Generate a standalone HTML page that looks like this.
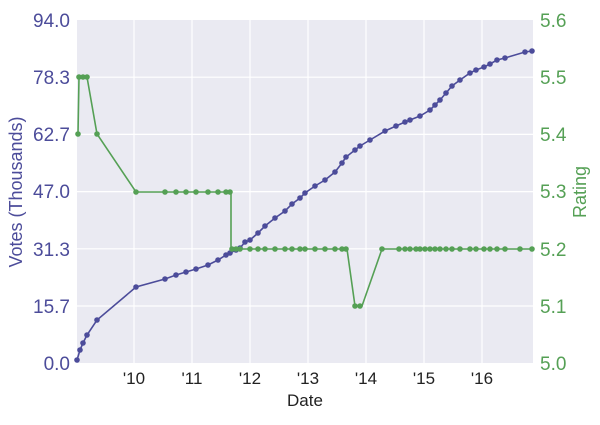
<!DOCTYPE html><html><head><style>body{margin:0;background:#fff}svg text{font-family:"Liberation Sans",sans-serif}</style></head><body>
<svg width="600" height="420" viewBox="0 0 600 420">
<rect x="77" y="20" width="456" height="343" fill="#eaeaf2"/>
<g stroke="#fff" stroke-width="1.2">
<line x1="77" x2="533" y1="77.2" y2="77.2"/><line x1="77" x2="533" y1="134.4" y2="134.4"/><line x1="77" x2="533" y1="191.6" y2="191.6"/><line x1="77" x2="533" y1="248.8" y2="248.8"/><line x1="77" x2="533" y1="306" y2="306"/>
<line y1="20" y2="363" x1="134" x2="134"/><line y1="20" y2="363" x1="192" x2="192"/><line y1="20" y2="363" x1="250" x2="250"/><line y1="20" y2="363" x1="308" x2="308"/><line y1="20" y2="363" x1="366" x2="366"/><line y1="20" y2="363" x1="424" x2="424"/><line y1="20" y2="363" x1="482" x2="482"/>
</g>
<g font-size="19" fill="#4c4c9a" text-anchor="end">
<text x="70" y="27">94.0</text><text x="70" y="84">78.3</text><text x="70" y="141">62.7</text><text x="70" y="198">47.0</text><text x="70" y="256">31.3</text><text x="70" y="313">15.7</text><text x="70" y="370">0.0</text>
</g>
<g font-size="19" fill="#55a055">
<text x="540" y="27">5.6</text><text x="540" y="84">5.5</text><text x="540" y="141">5.4</text><text x="540" y="198">5.3</text><text x="540" y="256">5.2</text><text x="540" y="313">5.1</text><text x="540" y="370">5.0</text>
</g>
<g font-size="17" fill="#222" text-anchor="middle">
<text x="134" y="384">'10</text><text x="192" y="384">'11</text><text x="250" y="384">'12</text><text x="308" y="384">'13</text><text x="366" y="384">'14</text><text x="424" y="384">'15</text><text x="482" y="384">'16</text>
<text x="305" y="406">Date</text>
</g>
<text transform="translate(22,192) rotate(-90)" font-size="18" fill="#4c4c9a" text-anchor="middle">Votes (Thousands)</text>
<text transform="translate(586,192) rotate(-90)" font-size="18" fill="#55a055" text-anchor="middle">Rating</text>
<g id="v"><polyline fill="none" stroke="#4c4c9a" stroke-width="1.6" points="77,360 80,350 83,343 87,335 97,320 136,287 165,279 176,275 186,272 196,269 208,265 218,260 226,255 230,253 236,250 240,248 245,242 250,240 258,233 265,226 275,218 285,211 292,204 300,198 305,193 315,186 325,180 335,172 342,163 346,157 355,150 360,146 370,140 385,131 396,126 405,122 410,120 420,116 430,110 435,105 440,100 446,93 452,86 460,80 470,73 476,70 484,67 490,64 497,60 505,58 525,52 532,51"/>
<g fill="#4c4c9a">
<circle cx="77" cy="360" r="2.8"/><circle cx="80" cy="350" r="2.8"/><circle cx="83" cy="343" r="2.8"/><circle cx="87" cy="335" r="2.8"/><circle cx="97" cy="320" r="2.8"/><circle cx="136" cy="287" r="2.8"/><circle cx="165" cy="279" r="2.8"/><circle cx="176" cy="275" r="2.8"/><circle cx="186" cy="272" r="2.8"/><circle cx="196" cy="269" r="2.8"/><circle cx="208" cy="265" r="2.8"/><circle cx="218" cy="260" r="2.8"/><circle cx="226" cy="255" r="2.8"/><circle cx="230" cy="253" r="2.8"/><circle cx="236" cy="250" r="2.8"/><circle cx="240" cy="248" r="2.8"/><circle cx="245" cy="242" r="2.8"/><circle cx="250" cy="240" r="2.8"/><circle cx="258" cy="233" r="2.8"/><circle cx="265" cy="226" r="2.8"/><circle cx="275" cy="218" r="2.8"/><circle cx="285" cy="211" r="2.8"/><circle cx="292" cy="204" r="2.8"/><circle cx="300" cy="198" r="2.8"/><circle cx="305" cy="193" r="2.8"/><circle cx="315" cy="186" r="2.8"/><circle cx="325" cy="180" r="2.8"/><circle cx="335" cy="172" r="2.8"/><circle cx="342" cy="163" r="2.8"/><circle cx="346" cy="157" r="2.8"/><circle cx="355" cy="150" r="2.8"/><circle cx="360" cy="146" r="2.8"/><circle cx="370" cy="140" r="2.8"/><circle cx="385" cy="131" r="2.8"/><circle cx="396" cy="126" r="2.8"/><circle cx="405" cy="122" r="2.8"/><circle cx="410" cy="120" r="2.8"/><circle cx="420" cy="116" r="2.8"/><circle cx="430" cy="110" r="2.8"/><circle cx="435" cy="105" r="2.8"/><circle cx="440" cy="100" r="2.8"/><circle cx="446" cy="93" r="2.8"/><circle cx="452" cy="86" r="2.8"/><circle cx="460" cy="80" r="2.8"/><circle cx="470" cy="73" r="2.8"/><circle cx="476" cy="70" r="2.8"/><circle cx="484" cy="67" r="2.8"/><circle cx="490" cy="64" r="2.8"/><circle cx="497" cy="60" r="2.8"/><circle cx="505" cy="58" r="2.8"/><circle cx="525" cy="52" r="2.8"/><circle cx="532" cy="51" r="2.8"/>
</g></g>
<polyline fill="none" stroke="#55a055" stroke-width="1.6" points="78,134 79,77 87,77 97,134 136,192 231,192 231,249 347,249 355,306 362,306 382,249 532,249"/>
<g fill="#55a055">
<circle cx="78" cy="134" r="2.8"/><circle cx="79" cy="77" r="2.8"/><circle cx="83" cy="77" r="2.8"/><circle cx="87" cy="77" r="2.8"/><circle cx="97" cy="134" r="2.8"/><circle cx="136" cy="192" r="2.8"/><circle cx="165" cy="192" r="2.8"/><circle cx="176" cy="192" r="2.8"/><circle cx="186" cy="192" r="2.8"/><circle cx="196" cy="192" r="2.8"/><circle cx="208" cy="192" r="2.8"/><circle cx="218" cy="192" r="2.8"/><circle cx="226" cy="192" r="2.8"/><circle cx="230" cy="192" r="2.8"/><circle cx="232" cy="249" r="2.8"/><circle cx="236" cy="249" r="2.8"/><circle cx="240" cy="249" r="2.8"/><circle cx="250" cy="249" r="2.8"/><circle cx="258" cy="249" r="2.8"/><circle cx="265" cy="249" r="2.8"/><circle cx="275" cy="249" r="2.8"/><circle cx="285" cy="249" r="2.8"/><circle cx="292" cy="249" r="2.8"/><circle cx="300" cy="249" r="2.8"/><circle cx="305" cy="249" r="2.8"/><circle cx="315" cy="249" r="2.8"/><circle cx="325" cy="249" r="2.8"/><circle cx="335" cy="249" r="2.8"/><circle cx="342" cy="249" r="2.8"/><circle cx="346" cy="249" r="2.8"/><circle cx="355" cy="306" r="2.8"/><circle cx="360" cy="306" r="2.8"/><circle cx="382" cy="249" r="2.8"/><circle cx="399" cy="249" r="2.8"/><circle cx="405" cy="249" r="2.8"/><circle cx="410" cy="249" r="2.8"/><circle cx="416" cy="249" r="2.8"/><circle cx="420" cy="249" r="2.8"/><circle cx="425" cy="249" r="2.8"/><circle cx="430" cy="249" r="2.8"/><circle cx="435" cy="249" r="2.8"/><circle cx="440" cy="249" r="2.8"/><circle cx="446" cy="249" r="2.8"/><circle cx="452" cy="249" r="2.8"/><circle cx="460" cy="249" r="2.8"/><circle cx="470" cy="249" r="2.8"/><circle cx="476" cy="249" r="2.8"/><circle cx="484" cy="249" r="2.8"/><circle cx="490" cy="249" r="2.8"/><circle cx="497" cy="249" r="2.8"/><circle cx="505" cy="249" r="2.8"/><circle cx="520" cy="249" r="2.8"/><circle cx="532" cy="249" r="2.8"/>
</g>
</svg></body></html>
